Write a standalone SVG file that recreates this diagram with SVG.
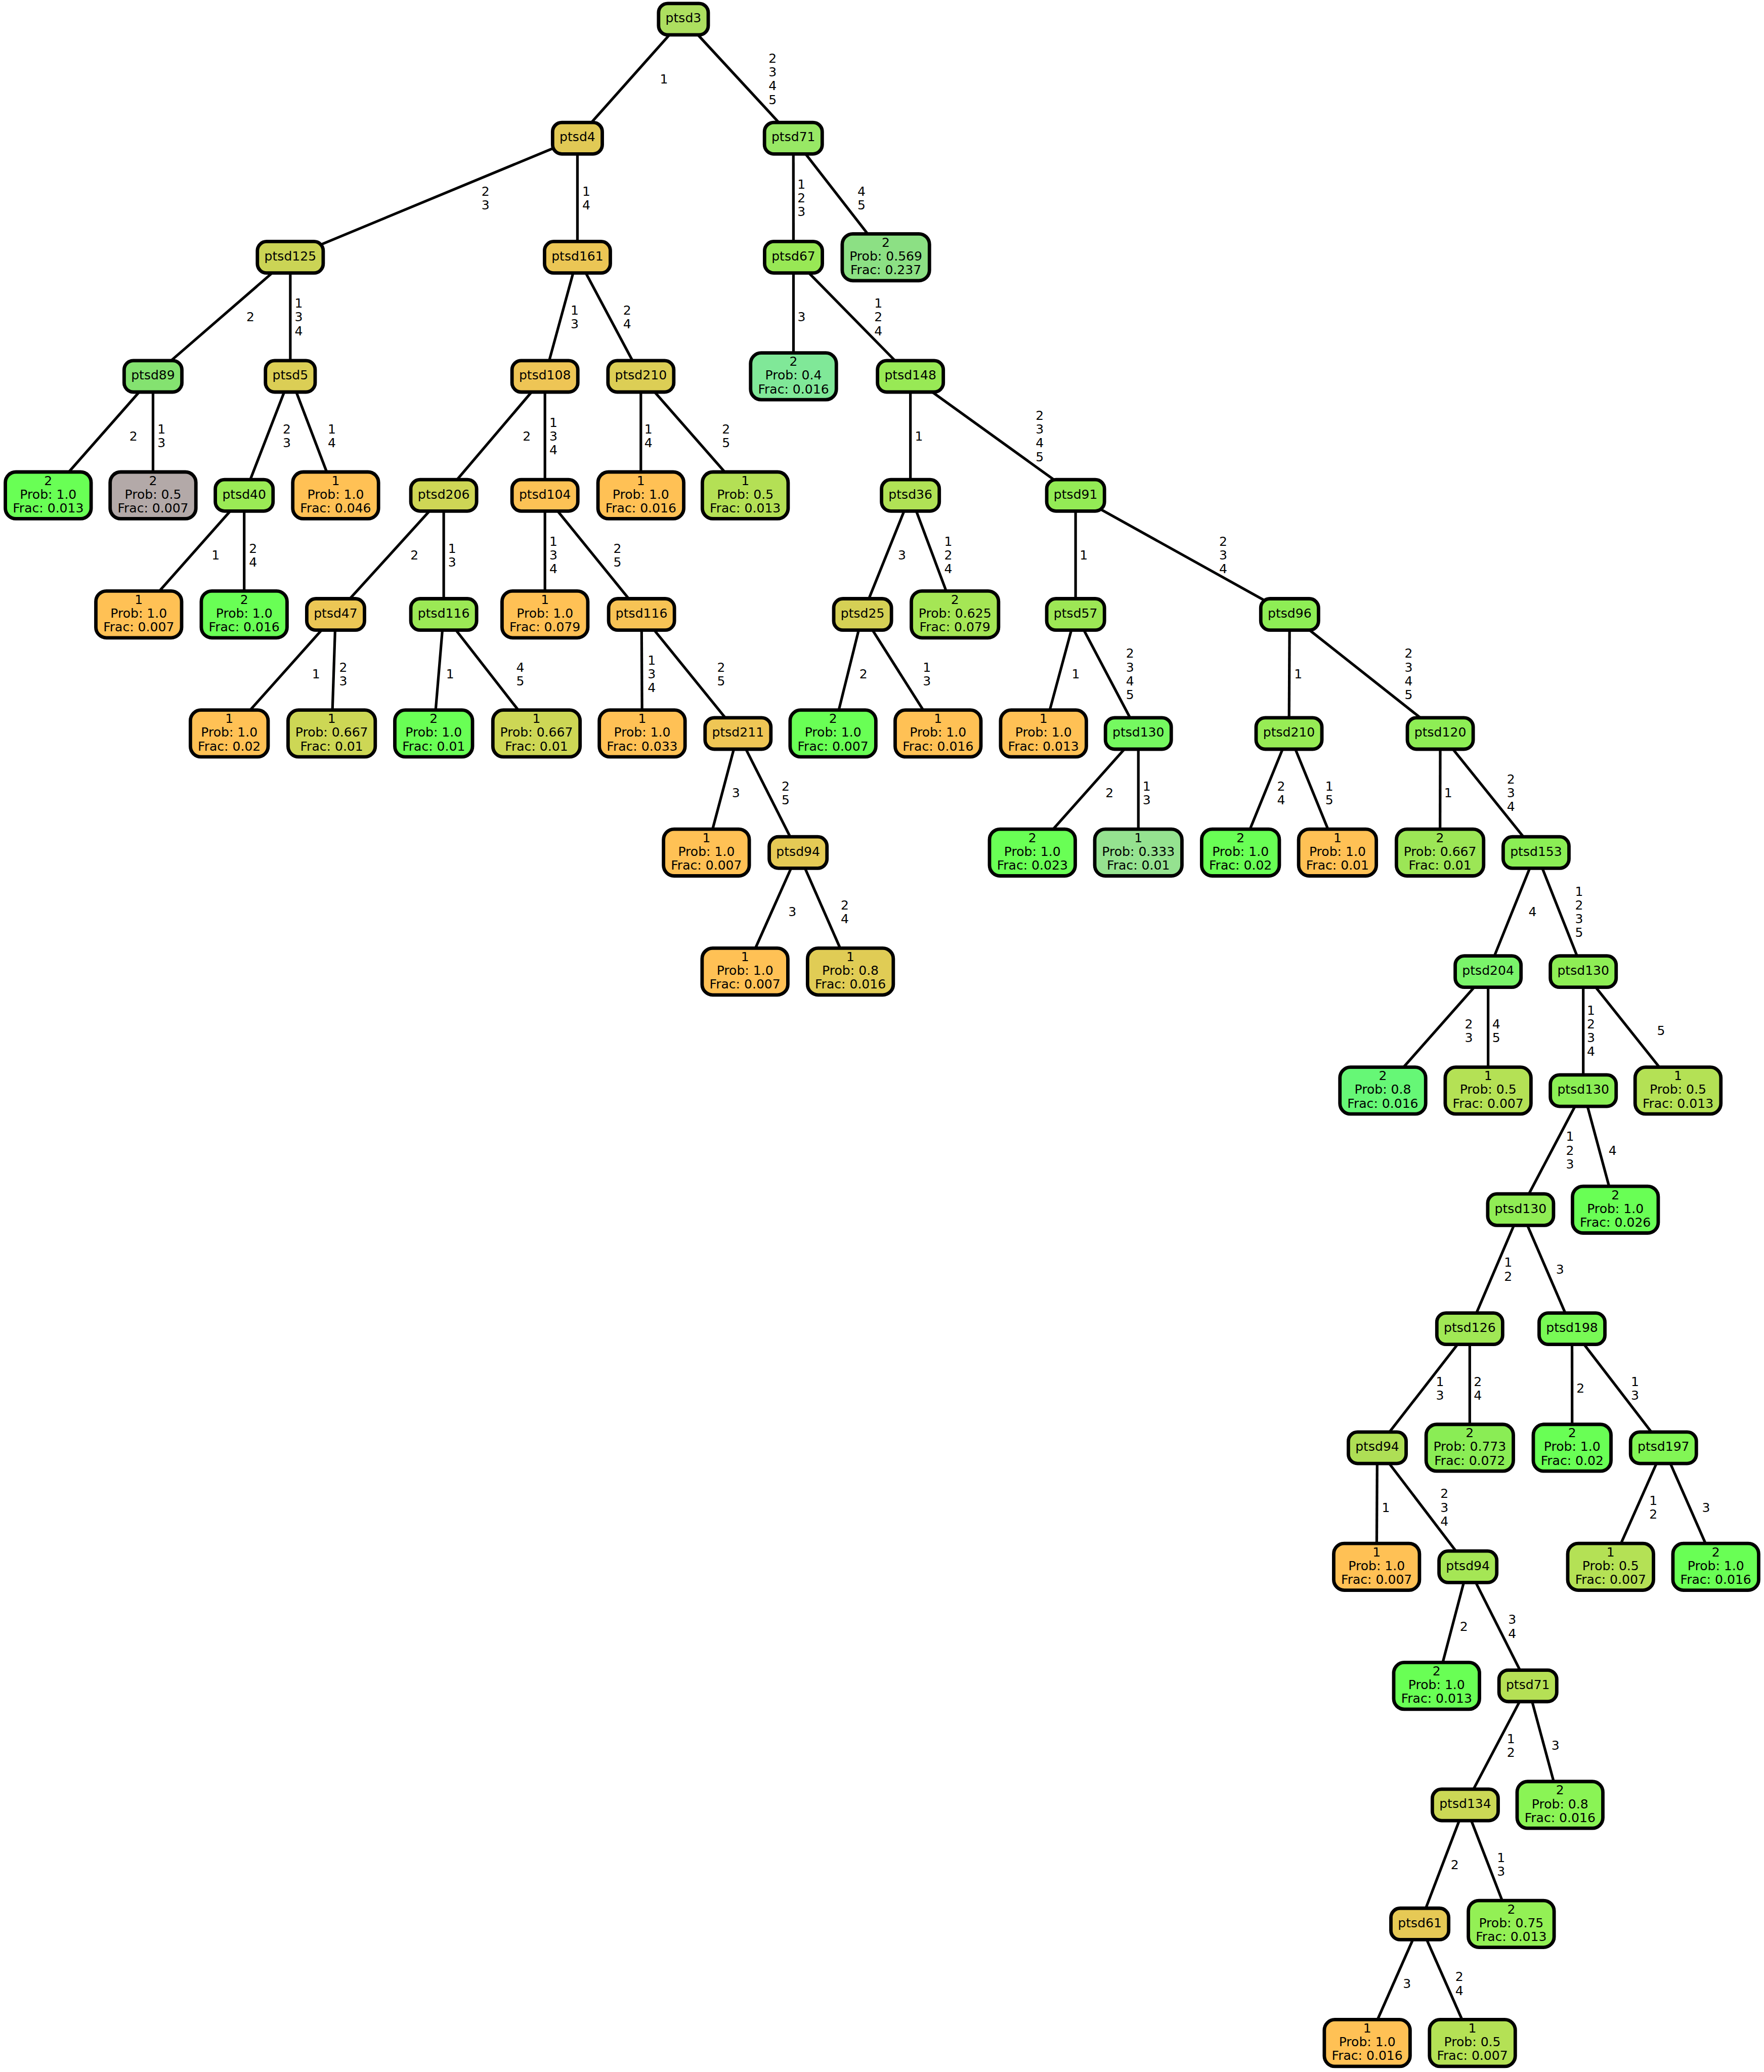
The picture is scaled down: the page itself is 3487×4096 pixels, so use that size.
<svg xmlns="http://www.w3.org/2000/svg" width="3487" height="4096" viewBox="0 0 3487 4096">
<style>
.e{stroke:#000;stroke-width:2;fill:none}
.n rect{stroke:#000;stroke-width:2.6}
text{font-family:"DejaVu Sans","Liberation Sans",sans-serif;font-size:9.6px;text-anchor:middle;fill:#000}
</style>
<rect width="3487" height="4096" fill="#fff"/>
<g transform="scale(2.612)">
<g id="connectors">
<line class="e" x1="517.2" y1="14.5" x2="437" y2="104.6"/><text x="502.5" y="63.1">1</text>
<line class="e" x1="517.2" y1="14.5" x2="600.4" y2="104.6"/><text x="584.7" y="47.5"><tspan x="584.7">2</tspan><tspan x="584.7" dy="10.4">3</tspan><tspan x="584.7" dy="10.4">4</tspan><tspan x="584.7" dy="10.4">5</tspan></text>
<line class="e" x1="437" y1="104.6" x2="219.7" y2="194.7"/><text x="367.4" y="148"><tspan x="367.4">2</tspan><tspan x="367.4" dy="10.4">3</tspan></text>
<line class="e" x1="437" y1="104.6" x2="437" y2="194.7"/><text x="443.7" y="148"><tspan x="443.7">1</tspan><tspan x="443.7" dy="10.4">4</tspan></text>
<line class="e" x1="600.4" y1="104.6" x2="600.5" y2="194.7"/><text x="606.5" y="142.8"><tspan x="606.5">1</tspan><tspan x="606.5" dy="10.4">2</tspan><tspan x="606.5" dy="10.4">3</tspan></text>
<line class="e" x1="600.4" y1="104.6" x2="670.4" y2="194.7"/><text x="652" y="148"><tspan x="652">4</tspan><tspan x="652" dy="10.4">5</tspan></text>
<line class="e" x1="219.7" y1="194.7" x2="115.8" y2="284.8"/><text x="189.5" y="243.3">2</text>
<line class="e" x1="219.7" y1="194.7" x2="219.7" y2="284.8"/><text x="226.1" y="232.9"><tspan x="226.1">1</tspan><tspan x="226.1" dy="10.4">3</tspan><tspan x="226.1" dy="10.4">4</tspan></text>
<line class="e" x1="437" y1="194.7" x2="412.4" y2="284.8"/><text x="434.9" y="238.1"><tspan x="434.9">1</tspan><tspan x="434.9" dy="10.4">3</tspan></text>
<line class="e" x1="437" y1="194.7" x2="485" y2="284.8"/><text x="474.6" y="238.1"><tspan x="474.6">2</tspan><tspan x="474.6" dy="10.4">4</tspan></text>
<line class="e" x1="600.5" y1="194.7" x2="600.5" y2="284.8"/><text x="606.6" y="243.3">3</text>
<line class="e" x1="600.5" y1="194.7" x2="689" y2="284.8"/><text x="664.7" y="232.9"><tspan x="664.7">1</tspan><tspan x="664.7" dy="10.4">2</tspan><tspan x="664.7" dy="10.4">4</tspan></text>
<line class="e" x1="115.8" y1="284.8" x2="36.5" y2="374.9"/><text x="101" y="333.4">2</text>
<line class="e" x1="115.8" y1="284.8" x2="115.8" y2="374.9"/><text x="122.2" y="328.2"><tspan x="122.2">1</tspan><tspan x="122.2" dy="10.4">3</tspan></text>
<line class="e" x1="219.7" y1="284.8" x2="184.8" y2="374.9"/><text x="217.1" y="328.2"><tspan x="217.1">2</tspan><tspan x="217.1" dy="10.4">3</tspan></text>
<line class="e" x1="219.7" y1="284.8" x2="254" y2="374.9"/><text x="251.1" y="328.2"><tspan x="251.1">1</tspan><tspan x="251.1" dy="10.4">4</tspan></text>
<line class="e" x1="412.4" y1="284.8" x2="335.8" y2="374.9"/><text x="398.6" y="333.4">2</text>
<line class="e" x1="412.4" y1="284.8" x2="412.4" y2="374.9"/><text x="418.8" y="323"><tspan x="418.8">1</tspan><tspan x="418.8" dy="10.4">3</tspan><tspan x="418.8" dy="10.4">4</tspan></text>
<line class="e" x1="485" y1="284.8" x2="485" y2="374.9"/><text x="490.7" y="328.2"><tspan x="490.7">1</tspan><tspan x="490.7" dy="10.4">4</tspan></text>
<line class="e" x1="485" y1="284.8" x2="564" y2="374.9"/><text x="549.5" y="328.2"><tspan x="549.5">2</tspan><tspan x="549.5" dy="10.4">5</tspan></text>
<line class="e" x1="689" y1="284.8" x2="689" y2="374.9"/><text x="695.4" y="333.4">1</text>
<line class="e" x1="689" y1="284.8" x2="814" y2="374.9"/><text x="786.8" y="317.8"><tspan x="786.8">2</tspan><tspan x="786.8" dy="10.4">3</tspan><tspan x="786.8" dy="10.4">4</tspan><tspan x="786.8" dy="10.4">5</tspan></text>
<line class="e" x1="184.8" y1="374.9" x2="105" y2="465"/><text x="163.2" y="423.5">1</text>
<line class="e" x1="184.8" y1="374.9" x2="184.8" y2="465"/><text x="191.5" y="418.3"><tspan x="191.5">2</tspan><tspan x="191.5" dy="10.4">4</tspan></text>
<line class="e" x1="335.8" y1="374.9" x2="254" y2="465"/><text x="313.6" y="423.5">2</text>
<line class="e" x1="335.8" y1="374.9" x2="335.8" y2="465"/><text x="342.2" y="418.3"><tspan x="342.2">1</tspan><tspan x="342.2" dy="10.4">3</tspan></text>
<line class="e" x1="412.4" y1="374.9" x2="412.4" y2="465"/><text x="418.8" y="413.1"><tspan x="418.8">1</tspan><tspan x="418.8" dy="10.4">3</tspan><tspan x="418.8" dy="10.4">4</tspan></text>
<line class="e" x1="412.4" y1="374.9" x2="485.5" y2="465"/><text x="467.3" y="418.3"><tspan x="467.3">2</tspan><tspan x="467.3" dy="10.4">5</tspan></text>
<line class="e" x1="689" y1="374.9" x2="652.8" y2="465"/><text x="682.6" y="423.5">3</text>
<line class="e" x1="689" y1="374.9" x2="722.7" y2="465"/><text x="717.6" y="413.1"><tspan x="717.6">1</tspan><tspan x="717.6" dy="10.4">2</tspan><tspan x="717.6" dy="10.4">4</tspan></text>
<line class="e" x1="814" y1="374.9" x2="814" y2="465"/><text x="820.2" y="423.5">1</text>
<line class="e" x1="814" y1="374.9" x2="976" y2="465"/><text x="925.7" y="413.1"><tspan x="925.7">2</tspan><tspan x="925.7" dy="10.4">3</tspan><tspan x="925.7" dy="10.4">4</tspan></text>
<line class="e" x1="254" y1="465" x2="173.5" y2="555.1"/><text x="239.2" y="513.5">1</text>
<line class="e" x1="254" y1="465" x2="251" y2="555.1"/><text x="259.8" y="508.3"><tspan x="259.8">2</tspan><tspan x="259.8" dy="10.4">3</tspan></text>
<line class="e" x1="335.8" y1="465" x2="328.2" y2="555.1"/><text x="340.6" y="513.5">1</text>
<line class="e" x1="335.8" y1="465" x2="406" y2="555.1"/><text x="393.8" y="508.3"><tspan x="393.8">4</tspan><tspan x="393.8" dy="10.4">5</tspan></text>
<line class="e" x1="485.5" y1="465" x2="486" y2="555.1"/><text x="493.2" y="503.1"><tspan x="493.2">1</tspan><tspan x="493.2" dy="10.4">3</tspan><tspan x="493.2" dy="10.4">4</tspan></text>
<line class="e" x1="485.5" y1="465" x2="558.5" y2="555.1"/><text x="545.7" y="508.3"><tspan x="545.7">2</tspan><tspan x="545.7" dy="10.4">5</tspan></text>
<line class="e" x1="652.8" y1="465" x2="630.4" y2="555.1"/><text x="653.4" y="513.5">2</text>
<line class="e" x1="652.8" y1="465" x2="709.9" y2="555.1"/><text x="701.5" y="508.3"><tspan x="701.5">1</tspan><tspan x="701.5" dy="10.4">3</tspan></text>
<line class="e" x1="814" y1="465" x2="789.7" y2="555.1"/><text x="814.1" y="513.5">1</text>
<line class="e" x1="814" y1="465" x2="861.5" y2="555.1"/><text x="855.2" y="497.9"><tspan x="855.2">2</tspan><tspan x="855.2" dy="10.4">3</tspan><tspan x="855.2" dy="10.4">4</tspan><tspan x="855.2" dy="10.4">5</tspan></text>
<line class="e" x1="976" y1="465" x2="975.5" y2="555.1"/><text x="982.5" y="513.5">1</text>
<line class="e" x1="976" y1="465" x2="1090" y2="555.1"/><text x="1066" y="497.9"><tspan x="1066">2</tspan><tspan x="1066" dy="10.4">3</tspan><tspan x="1066" dy="10.4">4</tspan><tspan x="1066" dy="10.4">5</tspan></text>
<line class="e" x1="558.5" y1="555.1" x2="534.6" y2="645.2"/><text x="556.9" y="603.5">3</text>
<line class="e" x1="558.5" y1="555.1" x2="604" y2="645.2"/><text x="594.6" y="598.3"><tspan x="594.6">2</tspan><tspan x="594.6" dy="10.4">5</tspan></text>
<line class="e" x1="861.5" y1="555.1" x2="781.3" y2="645.2"/><text x="839.7" y="603.5">2</text>
<line class="e" x1="861.5" y1="555.1" x2="861.5" y2="645.2"/><text x="867.8" y="598.3"><tspan x="867.8">1</tspan><tspan x="867.8" dy="10.4">3</tspan></text>
<line class="e" x1="975.5" y1="555.1" x2="938.8" y2="645.2"/><text x="969.6" y="598.3"><tspan x="969.6">2</tspan><tspan x="969.6" dy="10.4">4</tspan></text>
<line class="e" x1="975.5" y1="555.1" x2="1012.2" y2="645.2"/><text x="1006" y="598.3"><tspan x="1006">1</tspan><tspan x="1006" dy="10.4">5</tspan></text>
<line class="e" x1="1090" y1="555.1" x2="1089.8" y2="645.2"/><text x="1096" y="603.5">1</text>
<line class="e" x1="1090" y1="555.1" x2="1162.5" y2="645.2"/><text x="1143.5" y="593.1"><tspan x="1143.5">2</tspan><tspan x="1143.5" dy="10.4">3</tspan><tspan x="1143.5" dy="10.4">4</tspan></text>
<line class="e" x1="604" y1="645.2" x2="563.8" y2="735.3"/><text x="599.6" y="693.5">3</text>
<line class="e" x1="604" y1="645.2" x2="643.6" y2="735.3"/><text x="639.4" y="688.3"><tspan x="639.4">2</tspan><tspan x="639.4" dy="10.4">4</tspan></text>
<line class="e" x1="1162.5" y1="645.2" x2="1126.2" y2="735.3"/><text x="1159.8" y="693.5">4</text>
<line class="e" x1="1162.5" y1="645.2" x2="1198.2" y2="735.3"/><text x="1195.1" y="677.9"><tspan x="1195.1">1</tspan><tspan x="1195.1" dy="10.4">2</tspan><tspan x="1195.1" dy="10.4">3</tspan><tspan x="1195.1" dy="10.4">5</tspan></text>
<line class="e" x1="1126.2" y1="735.3" x2="1046.5" y2="825.4"/><text x="1111.6" y="778.3"><tspan x="1111.6">2</tspan><tspan x="1111.6" dy="10.4">3</tspan></text>
<line class="e" x1="1126.2" y1="735.3" x2="1126.2" y2="825.4"/><text x="1132.4" y="778.3"><tspan x="1132.4">4</tspan><tspan x="1132.4" dy="10.4">5</tspan></text>
<line class="e" x1="1198.2" y1="735.3" x2="1198.2" y2="825.4"/><text x="1204.1" y="767.9"><tspan x="1204.1">1</tspan><tspan x="1204.1" dy="10.4">2</tspan><tspan x="1204.1" dy="10.4">3</tspan><tspan x="1204.1" dy="10.4">4</tspan></text>
<line class="e" x1="1198.2" y1="735.3" x2="1269.9" y2="825.4"/><text x="1257.1" y="783.5">5</text>
<line class="e" x1="1198.2" y1="825.4" x2="1150.8" y2="915.5"/><text x="1188.2" y="863.5"><tspan x="1188.2">1</tspan><tspan x="1188.2" dy="10.4">2</tspan><tspan x="1188.2" dy="10.4">3</tspan></text>
<line class="e" x1="1198.2" y1="825.4" x2="1222.5" y2="915.5"/><text x="1220.4" y="873.9">4</text>
<line class="e" x1="1150.8" y1="915.5" x2="1112.3" y2="1005.6"/><text x="1141.4" y="958.8"><tspan x="1141.4">1</tspan><tspan x="1141.4" dy="10.4">2</tspan></text>
<line class="e" x1="1150.8" y1="915.5" x2="1189.7" y2="1005.6"/><text x="1180.6" y="964">3</text>
<line class="e" x1="1112.3" y1="1005.6" x2="1042.3" y2="1095.7"/><text x="1089.8" y="1048.9"><tspan x="1089.8">1</tspan><tspan x="1089.8" dy="10.4">3</tspan></text>
<line class="e" x1="1112.3" y1="1005.6" x2="1112.3" y2="1095.7"/><text x="1118.4" y="1048.9"><tspan x="1118.4">2</tspan><tspan x="1118.4" dy="10.4">4</tspan></text>
<line class="e" x1="1189.7" y1="1005.6" x2="1189.8" y2="1095.7"/><text x="1196.1" y="1054.1">2</text>
<line class="e" x1="1189.7" y1="1005.6" x2="1258.9" y2="1095.7"/><text x="1237.4" y="1048.9"><tspan x="1237.4">1</tspan><tspan x="1237.4" dy="10.4">3</tspan></text>
<line class="e" x1="1042.3" y1="1095.7" x2="1041.8" y2="1185.8"/><text x="1048.8" y="1144.2">1</text>
<line class="e" x1="1042.3" y1="1095.7" x2="1110.9" y2="1185.8"/><text x="1093.1" y="1133.8"><tspan x="1093.1">2</tspan><tspan x="1093.1" dy="10.4">3</tspan><tspan x="1093.1" dy="10.4">4</tspan></text>
<line class="e" x1="1258.9" y1="1095.7" x2="1218.9" y2="1185.8"/><text x="1251.2" y="1139"><tspan x="1251.2">1</tspan><tspan x="1251.2" dy="10.4">2</tspan></text>
<line class="e" x1="1258.9" y1="1095.7" x2="1298.5" y2="1185.8"/><text x="1291.2" y="1144.2">3</text>
<line class="e" x1="1110.9" y1="1185.8" x2="1087.2" y2="1275.9"/><text x="1107.9" y="1234.3">2</text>
<line class="e" x1="1110.9" y1="1185.8" x2="1156.3" y2="1275.9"/><text x="1144.4" y="1229.1"><tspan x="1144.4">3</tspan><tspan x="1144.4" dy="10.4">4</tspan></text>
<line class="e" x1="1156.3" y1="1275.9" x2="1108.9" y2="1366"/><text x="1143.5" y="1319.2"><tspan x="1143.5">1</tspan><tspan x="1143.5" dy="10.4">2</tspan></text>
<line class="e" x1="1156.3" y1="1275.9" x2="1180.6" y2="1366"/><text x="1177.2" y="1324.4">3</text>
<line class="e" x1="1108.9" y1="1366" x2="1074.5" y2="1456.1"/><text x="1101" y="1414.5">2</text>
<line class="e" x1="1108.9" y1="1366" x2="1143.7" y2="1456.1"/><text x="1136" y="1409.3"><tspan x="1136">1</tspan><tspan x="1136" dy="10.4">3</tspan></text>
<line class="e" x1="1074.5" y1="1456.1" x2="1034.7" y2="1546.2"/><text x="1064.8" y="1504.6">3</text>
<line class="e" x1="1074.5" y1="1456.1" x2="1114.3" y2="1546.2"/><text x="1104.4" y="1499.4"><tspan x="1104.4">2</tspan><tspan x="1104.4" dy="10.4">4</tspan></text>
</g>
<g id="nodes">
<g id="node-ptsd3" class="n" transform="translate(517.2,14.5)"><rect x="-18.8" y="-11.9" width="37.6" height="23.8" rx="7" fill="#ADDF60"/><text y="2.4">ptsd3</text></g>
<g id="node-ptsd4" class="n" transform="translate(437,104.6)"><rect x="-18.8" y="-11.9" width="37.6" height="23.8" rx="7" fill="#E1C955"/><text y="2.4">ptsd4</text></g>
<g id="node-ptsd71" class="n" transform="translate(600.4,104.6)"><rect x="-21.85" y="-11.9" width="43.7" height="23.8" rx="7" fill="#98E865"/><text y="2.4">ptsd71</text></g>
<g id="node-ptsd125" class="n" transform="translate(219.7,194.7)"><rect x="-24.9" y="-11.9" width="49.8" height="23.8" rx="7" fill="#CBD455"/><text y="2.4">ptsd125</text></g>
<g id="node-ptsd161" class="n" transform="translate(437,194.7)"><rect x="-24.9" y="-11.9" width="49.8" height="23.8" rx="7" fill="#EBC655"/><text y="2.4">ptsd161</text></g>
<g id="node-ptsd67" class="n" transform="translate(600.5,194.7)"><rect x="-21.85" y="-11.9" width="43.7" height="23.8" rx="7" fill="#98E855"/><text y="2.4">ptsd67</text></g>
<g id="leaf-a" class="n" transform="translate(670.4,194.7)"><rect x="-33" y="-17.7" width="66" height="35.4" rx="8" fill="#8CE084"/><text y="-7.9">2</text><text y="2.5">Prob: 0.569</text><text y="12.9">Frac: 0.237</text></g>
<g id="node-ptsd89" class="n" transform="translate(115.8,284.8)"><rect x="-21.85" y="-11.9" width="43.7" height="23.8" rx="7" fill="#84E270"/><text y="2.4">ptsd89</text></g>
<g id="node-ptsd5" class="n" transform="translate(219.7,284.8)"><rect x="-18.8" y="-11.9" width="37.6" height="23.8" rx="7" fill="#DBCE55"/><text y="2.4">ptsd5</text></g>
<g id="node-ptsd108" class="n" transform="translate(412.4,284.8)"><rect x="-24.9" y="-11.9" width="49.8" height="23.8" rx="7" fill="#EEC555"/><text y="2.4">ptsd108</text></g>
<g id="node-ptsd210-a" class="n" transform="translate(485,284.8)"><rect x="-24.9" y="-11.9" width="49.8" height="23.8" rx="7" fill="#DCCE55"/><text y="2.4">ptsd210</text></g>
<g id="leaf-b" class="n" transform="translate(600.5,284.8)"><rect x="-32.45" y="-17.7" width="64.9" height="35.4" rx="8" fill="#80E898"/><text y="-7.9">2</text><text y="2.5">Prob: 0.4</text><text y="12.9">Frac: 0.016</text></g>
<g id="node-ptsd148" class="n" transform="translate(689,284.8)"><rect x="-24.9" y="-11.9" width="49.8" height="23.8" rx="7" fill="#98E955"/><text y="2.4">ptsd148</text></g>
<g id="leaf-c" class="n" transform="translate(36.5,374.9)"><rect x="-32.45" y="-17.7" width="64.9" height="35.4" rx="8" fill="#69FF55"/><text y="-7.9">2</text><text y="2.5">Prob: 1.0</text><text y="12.9">Frac: 0.013</text></g>
<g id="leaf-d" class="n" transform="translate(115.8,374.9)"><rect x="-32.45" y="-17.7" width="64.9" height="35.4" rx="8" fill="#B3A9A8"/><text y="-7.9">2</text><text y="2.5">Prob: 0.5</text><text y="12.9">Frac: 0.007</text></g>
<g id="node-ptsd40" class="n" transform="translate(184.8,374.9)"><rect x="-21.85" y="-11.9" width="43.7" height="23.8" rx="7" fill="#9AEB55"/><text y="2.4">ptsd40</text></g>
<g id="leaf-e" class="n" transform="translate(254,374.9)"><rect x="-32.45" y="-17.7" width="64.9" height="35.4" rx="8" fill="#FFC155"/><text y="-7.9">1</text><text y="2.5">Prob: 1.0</text><text y="12.9">Frac: 0.046</text></g>
<g id="node-ptsd206" class="n" transform="translate(335.8,374.9)"><rect x="-24.9" y="-11.9" width="49.8" height="23.8" rx="7" fill="#CED655"/><text y="2.4">ptsd206</text></g>
<g id="node-ptsd104" class="n" transform="translate(412.4,374.9)"><rect x="-24.9" y="-11.9" width="49.8" height="23.8" rx="7" fill="#FCC255"/><text y="2.4">ptsd104</text></g>
<g id="leaf-f" class="n" transform="translate(485,374.9)"><rect x="-32.45" y="-17.7" width="64.9" height="35.4" rx="8" fill="#FFC155"/><text y="-7.9">1</text><text y="2.5">Prob: 1.0</text><text y="12.9">Frac: 0.016</text></g>
<g id="leaf-g" class="n" transform="translate(564,374.9)"><rect x="-32.45" y="-17.7" width="64.9" height="35.4" rx="8" fill="#B4E055"/><text y="-7.9">1</text><text y="2.5">Prob: 0.5</text><text y="12.9">Frac: 0.013</text></g>
<g id="node-ptsd36" class="n" transform="translate(689,374.9)"><rect x="-21.85" y="-11.9" width="43.7" height="23.8" rx="7" fill="#B0E255"/><text y="2.4">ptsd36</text></g>
<g id="node-ptsd91" class="n" transform="translate(814,374.9)"><rect x="-21.85" y="-11.9" width="43.7" height="23.8" rx="7" fill="#93EB55"/><text y="2.4">ptsd91</text></g>
<g id="leaf-h" class="n" transform="translate(105,465)"><rect x="-32.45" y="-17.7" width="64.9" height="35.4" rx="8" fill="#FFC155"/><text y="-7.9">1</text><text y="2.5">Prob: 1.0</text><text y="12.9">Frac: 0.007</text></g>
<g id="leaf-i" class="n" transform="translate(184.8,465)"><rect x="-32.45" y="-17.7" width="64.9" height="35.4" rx="8" fill="#69FF55"/><text y="-7.9">2</text><text y="2.5">Prob: 1.0</text><text y="12.9">Frac: 0.016</text></g>
<g id="node-ptsd47" class="n" transform="translate(254,465)"><rect x="-21.85" y="-11.9" width="43.7" height="23.8" rx="7" fill="#ECC755"/><text y="2.4">ptsd47</text></g>
<g id="node-ptsd116-a" class="n" transform="translate(335.8,465)"><rect x="-24.9" y="-11.9" width="49.8" height="23.8" rx="7" fill="#9BE955"/><text y="2.4">ptsd116</text></g>
<g id="leaf-j" class="n" transform="translate(412.4,465)"><rect x="-32.45" y="-17.7" width="64.9" height="35.4" rx="8" fill="#FFC155"/><text y="-7.9">1</text><text y="2.5">Prob: 1.0</text><text y="12.9">Frac: 0.079</text></g>
<g id="node-ptsd116-b" class="n" transform="translate(485.5,465)"><rect x="-24.9" y="-11.9" width="49.8" height="23.8" rx="7" fill="#F7C355"/><text y="2.4">ptsd116</text></g>
<g id="node-ptsd25" class="n" transform="translate(652.8,465)"><rect x="-21.85" y="-11.9" width="43.7" height="23.8" rx="7" fill="#D5D055"/><text y="2.4">ptsd25</text></g>
<g id="leaf-k" class="n" transform="translate(722.7,465)"><rect x="-33" y="-17.7" width="66" height="35.4" rx="8" fill="#A5E655"/><text y="-7.9">2</text><text y="2.5">Prob: 0.625</text><text y="12.9">Frac: 0.079</text></g>
<g id="node-ptsd57" class="n" transform="translate(814,465)"><rect x="-21.85" y="-11.9" width="43.7" height="23.8" rx="7" fill="#9DE755"/><text y="2.4">ptsd57</text></g>
<g id="node-ptsd96" class="n" transform="translate(976,465)"><rect x="-21.85" y="-11.9" width="43.7" height="23.8" rx="7" fill="#8EEE55"/><text y="2.4">ptsd96</text></g>
<g id="leaf-l" class="n" transform="translate(173.5,555.1)"><rect x="-29.4" y="-17.7" width="58.8" height="35.4" rx="8" fill="#FFC155"/><text y="-7.9">1</text><text y="2.5">Prob: 1.0</text><text y="12.9">Frac: 0.02</text></g>
<g id="leaf-m" class="n" transform="translate(251,555.1)"><rect x="-33" y="-17.7" width="66" height="35.4" rx="8" fill="#CDD755"/><text y="-7.9">1</text><text y="2.5">Prob: 0.667</text><text y="12.9">Frac: 0.01</text></g>
<g id="leaf-n" class="n" transform="translate(328.2,555.1)"><rect x="-29.4" y="-17.7" width="58.8" height="35.4" rx="8" fill="#69FF55"/><text y="-7.9">2</text><text y="2.5">Prob: 1.0</text><text y="12.9">Frac: 0.01</text></g>
<g id="leaf-o" class="n" transform="translate(406,555.1)"><rect x="-33" y="-17.7" width="66" height="35.4" rx="8" fill="#CDD755"/><text y="-7.9">1</text><text y="2.5">Prob: 0.667</text><text y="12.9">Frac: 0.01</text></g>
<g id="leaf-p" class="n" transform="translate(486,555.1)"><rect x="-32.45" y="-17.7" width="64.9" height="35.4" rx="8" fill="#FFC155"/><text y="-7.9">1</text><text y="2.5">Prob: 1.0</text><text y="12.9">Frac: 0.033</text></g>
<g id="node-ptsd211" class="n" transform="translate(558.5,555.1)"><rect x="-24.9" y="-11.9" width="49.8" height="23.8" rx="7" fill="#EFC655"/><text y="2.4">ptsd211</text></g>
<g id="leaf-q" class="n" transform="translate(630.4,555.1)"><rect x="-32.45" y="-17.7" width="64.9" height="35.4" rx="8" fill="#69FF55"/><text y="-7.9">2</text><text y="2.5">Prob: 1.0</text><text y="12.9">Frac: 0.007</text></g>
<g id="leaf-r" class="n" transform="translate(709.9,555.1)"><rect x="-32.45" y="-17.7" width="64.9" height="35.4" rx="8" fill="#FFC155"/><text y="-7.9">1</text><text y="2.5">Prob: 1.0</text><text y="12.9">Frac: 0.016</text></g>
<g id="leaf-s" class="n" transform="translate(789.7,555.1)"><rect x="-32.45" y="-17.7" width="64.9" height="35.4" rx="8" fill="#FFC155"/><text y="-7.9">1</text><text y="2.5">Prob: 1.0</text><text y="12.9">Frac: 0.013</text></g>
<g id="node-ptsd130-a" class="n" transform="translate(861.5,555.1)"><rect x="-24.9" y="-11.9" width="49.8" height="23.8" rx="7" fill="#75F960"/><text y="2.4">ptsd130</text></g>
<g id="node-ptsd210-b" class="n" transform="translate(975.5,555.1)"><rect x="-24.9" y="-11.9" width="49.8" height="23.8" rx="7" fill="#97EC55"/><text y="2.4">ptsd210</text></g>
<g id="node-ptsd120" class="n" transform="translate(1090,555.1)"><rect x="-24.9" y="-11.9" width="49.8" height="23.8" rx="7" fill="#8EEE55"/><text y="2.4">ptsd120</text></g>
<g id="leaf-t" class="n" transform="translate(534.6,645.2)"><rect x="-32.45" y="-17.7" width="64.9" height="35.4" rx="8" fill="#FFC155"/><text y="-7.9">1</text><text y="2.5">Prob: 1.0</text><text y="12.9">Frac: 0.007</text></g>
<g id="node-ptsd94-a" class="n" transform="translate(604,645.2)"><rect x="-21.85" y="-11.9" width="43.7" height="23.8" rx="7" fill="#E5CA55"/><text y="2.4">ptsd94</text></g>
<g id="leaf-u" class="n" transform="translate(781.3,645.2)"><rect x="-32.45" y="-17.7" width="64.9" height="35.4" rx="8" fill="#69FF55"/><text y="-7.9">2</text><text y="2.5">Prob: 1.0</text><text y="12.9">Frac: 0.023</text></g>
<g id="leaf-v" class="n" transform="translate(861.5,645.2)"><rect x="-33" y="-17.7" width="66" height="35.4" rx="8" fill="#95E290"/><text y="-7.9">1</text><text y="2.5">Prob: 0.333</text><text y="12.9">Frac: 0.01</text></g>
<g id="leaf-w" class="n" transform="translate(938.8,645.2)"><rect x="-29.4" y="-17.7" width="58.8" height="35.4" rx="8" fill="#69FF55"/><text y="-7.9">2</text><text y="2.5">Prob: 1.0</text><text y="12.9">Frac: 0.02</text></g>
<g id="leaf-x" class="n" transform="translate(1012.2,645.2)"><rect x="-29.4" y="-17.7" width="58.8" height="35.4" rx="8" fill="#FFC155"/><text y="-7.9">1</text><text y="2.5">Prob: 1.0</text><text y="12.9">Frac: 0.01</text></g>
<g id="leaf-y" class="n" transform="translate(1089.8,645.2)"><rect x="-33" y="-17.7" width="66" height="35.4" rx="8" fill="#9CE656"/><text y="-7.9">2</text><text y="2.5">Prob: 0.667</text><text y="12.9">Frac: 0.01</text></g>
<g id="node-ptsd153" class="n" transform="translate(1162.5,645.2)"><rect x="-24.9" y="-11.9" width="49.8" height="23.8" rx="7" fill="#8BEE55"/><text y="2.4">ptsd153</text></g>
<g id="leaf-z" class="n" transform="translate(563.8,735.3)"><rect x="-32.45" y="-17.7" width="64.9" height="35.4" rx="8" fill="#FFC155"/><text y="-7.9">1</text><text y="2.5">Prob: 1.0</text><text y="12.9">Frac: 0.007</text></g>
<g id="leaf-aa" class="n" transform="translate(643.6,735.3)"><rect x="-32.45" y="-17.7" width="64.9" height="35.4" rx="8" fill="#E0CC55"/><text y="-7.9">1</text><text y="2.5">Prob: 0.8</text><text y="12.9">Frac: 0.016</text></g>
<g id="node-ptsd204" class="n" transform="translate(1126.2,735.3)"><rect x="-24.9" y="-11.9" width="49.8" height="23.8" rx="7" fill="#7AF46A"/><text y="2.4">ptsd204</text></g>
<g id="node-ptsd130-b" class="n" transform="translate(1198.2,735.3)"><rect x="-24.9" y="-11.9" width="49.8" height="23.8" rx="7" fill="#8EEE55"/><text y="2.4">ptsd130</text></g>
<g id="leaf-ab" class="n" transform="translate(1046.5,825.4)"><rect x="-32.45" y="-17.7" width="64.9" height="35.4" rx="8" fill="#66F776"/><text y="-7.9">2</text><text y="2.5">Prob: 0.8</text><text y="12.9">Frac: 0.016</text></g>
<g id="leaf-ac" class="n" transform="translate(1126.2,825.4)"><rect x="-32.45" y="-17.7" width="64.9" height="35.4" rx="8" fill="#B4E155"/><text y="-7.9">1</text><text y="2.5">Prob: 0.5</text><text y="12.9">Frac: 0.007</text></g>
<g id="node-ptsd130-c" class="n" transform="translate(1198.2,825.4)"><rect x="-24.9" y="-11.9" width="49.8" height="23.8" rx="7" fill="#8BEF55"/><text y="2.4">ptsd130</text></g>
<g id="leaf-ad" class="n" transform="translate(1269.9,825.4)"><rect x="-32.45" y="-17.7" width="64.9" height="35.4" rx="8" fill="#B4E155"/><text y="-7.9">1</text><text y="2.5">Prob: 0.5</text><text y="12.9">Frac: 0.013</text></g>
<g id="node-ptsd130-d" class="n" transform="translate(1150.8,915.5)"><rect x="-24.9" y="-11.9" width="49.8" height="23.8" rx="7" fill="#90ED55"/><text y="2.4">ptsd130</text></g>
<g id="leaf-ae" class="n" transform="translate(1222.5,915.5)"><rect x="-32.45" y="-17.7" width="64.9" height="35.4" rx="8" fill="#69FF55"/><text y="-7.9">2</text><text y="2.5">Prob: 1.0</text><text y="12.9">Frac: 0.026</text></g>
<g id="node-ptsd126" class="n" transform="translate(1112.3,1005.6)"><rect x="-24.9" y="-11.9" width="49.8" height="23.8" rx="7" fill="#A0E855"/><text y="2.4">ptsd126</text></g>
<g id="node-ptsd198" class="n" transform="translate(1189.7,1005.6)"><rect x="-24.9" y="-11.9" width="49.8" height="23.8" rx="7" fill="#78FA55"/><text y="2.4">ptsd198</text></g>
<g id="node-ptsd94-b" class="n" transform="translate(1042.3,1095.7)"><rect x="-21.85" y="-11.9" width="43.7" height="23.8" rx="7" fill="#AEDF55"/><text y="2.4">ptsd94</text></g>
<g id="leaf-af" class="n" transform="translate(1112.3,1095.7)"><rect x="-33" y="-17.7" width="66" height="35.4" rx="8" fill="#8AED55"/><text y="-7.9">2</text><text y="2.5">Prob: 0.773</text><text y="12.9">Frac: 0.072</text></g>
<g id="leaf-ag" class="n" transform="translate(1189.8,1095.7)"><rect x="-29.4" y="-17.7" width="58.8" height="35.4" rx="8" fill="#69FF55"/><text y="-7.9">2</text><text y="2.5">Prob: 1.0</text><text y="12.9">Frac: 0.02</text></g>
<g id="node-ptsd197" class="n" transform="translate(1258.9,1095.7)"><rect x="-24.9" y="-11.9" width="49.8" height="23.8" rx="7" fill="#82F655"/><text y="2.4">ptsd197</text></g>
<g id="leaf-ah" class="n" transform="translate(1041.8,1185.8)"><rect x="-32.45" y="-17.7" width="64.9" height="35.4" rx="8" fill="#FFC155"/><text y="-7.9">1</text><text y="2.5">Prob: 1.0</text><text y="12.9">Frac: 0.007</text></g>
<g id="node-ptsd94-c" class="n" transform="translate(1110.9,1185.8)"><rect x="-21.85" y="-11.9" width="43.7" height="23.8" rx="7" fill="#A5E655"/><text y="2.4">ptsd94</text></g>
<g id="leaf-ai" class="n" transform="translate(1218.9,1185.8)"><rect x="-32.45" y="-17.7" width="64.9" height="35.4" rx="8" fill="#B4E155"/><text y="-7.9">1</text><text y="2.5">Prob: 0.5</text><text y="12.9">Frac: 0.007</text></g>
<g id="leaf-aj" class="n" transform="translate(1298.5,1185.8)"><rect x="-32.45" y="-17.7" width="64.9" height="35.4" rx="8" fill="#69FF55"/><text y="-7.9">2</text><text y="2.5">Prob: 1.0</text><text y="12.9">Frac: 0.016</text></g>
<g id="leaf-ak" class="n" transform="translate(1087.2,1275.9)"><rect x="-32.45" y="-17.7" width="64.9" height="35.4" rx="8" fill="#69FF55"/><text y="-7.9">2</text><text y="2.5">Prob: 1.0</text><text y="12.9">Frac: 0.013</text></g>
<g id="node-ptsd71-b" class="n" transform="translate(1156.3,1275.9)"><rect x="-21.85" y="-11.9" width="43.7" height="23.8" rx="7" fill="#B5E055"/><text y="2.4">ptsd71</text></g>
<g id="node-ptsd134" class="n" transform="translate(1108.9,1366)"><rect x="-24.9" y="-11.9" width="49.8" height="23.8" rx="7" fill="#CBD855"/><text y="2.4">ptsd134</text></g>
<g id="leaf-al" class="n" transform="translate(1180.6,1366)"><rect x="-32.45" y="-17.7" width="64.9" height="35.4" rx="8" fill="#8AF455"/><text y="-7.9">2</text><text y="2.5">Prob: 0.8</text><text y="12.9">Frac: 0.016</text></g>
<g id="node-ptsd61" class="n" transform="translate(1074.5,1456.1)"><rect x="-21.85" y="-11.9" width="43.7" height="23.8" rx="7" fill="#E6C955"/><text y="2.4">ptsd61</text></g>
<g id="leaf-am" class="n" transform="translate(1143.7,1456.1)"><rect x="-32.45" y="-17.7" width="64.9" height="35.4" rx="8" fill="#93F055"/><text y="-7.9">2</text><text y="2.5">Prob: 0.75</text><text y="12.9">Frac: 0.013</text></g>
<g id="leaf-an" class="n" transform="translate(1034.7,1546.2)"><rect x="-32.45" y="-17.7" width="64.9" height="35.4" rx="8" fill="#FFC155"/><text y="-7.9">1</text><text y="2.5">Prob: 1.0</text><text y="12.9">Frac: 0.016</text></g>
<g id="leaf-ao" class="n" transform="translate(1114.3,1546.2)"><rect x="-32.45" y="-17.7" width="64.9" height="35.4" rx="8" fill="#B4E155"/><text y="-7.9">1</text><text y="2.5">Prob: 0.5</text><text y="12.9">Frac: 0.007</text></g>
</g>
</g>
</svg>
